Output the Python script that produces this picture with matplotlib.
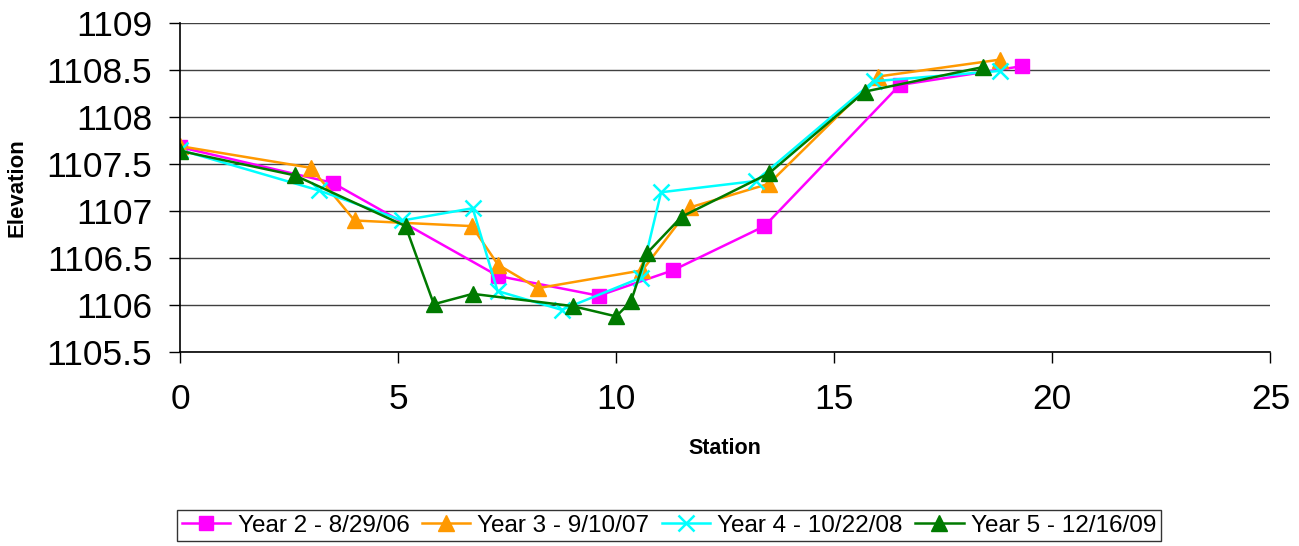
import matplotlib
matplotlib.use("Agg")
import matplotlib.pyplot as plt

plt.rcParams['font.family'] = ['Liberation Sans', 'DejaVu Sans']

labels = ["Year 2 - 8/29/06", "Year 3 - 9/10/07", "Year 4 - 10/22/08", "Year 5 - 12/16/09"]

y2_x = [0, 3.5, 7.29, 9.6, 11.3, 13.4, 16.5, 19.3]
y2_y = [1107.68, 1107.30, 1106.31, 1106.10, 1106.37, 1106.84, 1108.34, 1108.54]

y3_x = [0, 3.0, 4.0, 6.69, 7.29, 8.2, 10.6, 11.7, 13.5, 16.0, 18.8]
y3_y = [1107.69, 1107.46, 1106.90, 1106.84, 1106.43, 1106.18, 1106.37, 1107.04, 1107.29, 1108.43, 1108.61]

y4_x = [0, 3.18, 5.1, 6.71, 7.28, 8.75, 10.56, 11.03, 13.2, 15.9, 18.8]
y4_y = [1107.65, 1107.22, 1106.90, 1107.03, 1106.15, 1105.95, 1106.29, 1107.20, 1107.32, 1108.38, 1108.49]

y5_x = [0, 2.63, 5.17, 5.82, 6.71, 9.0, 10.0, 10.34, 10.7, 11.5, 13.5, 15.7, 18.4]
y5_y = [1107.64, 1107.38, 1106.84, 1106.01, 1106.12, 1105.99, 1105.88, 1106.04, 1106.55, 1106.94, 1107.40, 1108.27, 1108.53]

x_ticks = [0, 5, 10, 15, 20, 25]
y_ticks = [1105.5, 1106, 1106.5, 1107, 1107.5, 1108, 1108.5, 1109]
y_tick_labels = ["1105.5", "1106", "1106.5", "1107", "1107.5", "1108", "1108.5", "1109"]

fig = plt.figure(figsize=(12.99, 5.46), dpi=100)
ax = fig.add_axes([0.1386, 0.355, 0.978 - 0.1386, 0.958 - 0.355])

ax.plot(y2_x, y2_y, color='#FF00FF', marker='s', markersize=10, lw=1.8, label=labels[0])
ax.plot(y3_x, y3_y, color='#FF9900', marker='^', markersize=11, lw=1.8, label=labels[1])
ax.plot(y4_x, y4_y, color='#00FFFF', marker='x', markersize=11, mew=1.8, lw=1.8, label=labels[2])
ax.plot(y5_x, y5_y, color='#007A00', marker='^', markersize=11, lw=1.8, label=labels[3])

ax.set_xlim(0, 25)
ax.set_ylim(1105.5, 1109)
ax.set_xticks(x_ticks)
ax.set_yticks(y_ticks)
ax.set_yticklabels(y_tick_labels)
ax.tick_params(axis='both', labelsize=25.5, direction='out', length=8, width=1, color='black')
ax.tick_params(axis='y', pad=12)
ax.tick_params(axis='x', pad=14)
ax.grid(axis='y', color='#404040', lw=1)
ax.set_axisbelow(True)
for s in ['top', 'right']:
    ax.spines[s].set_visible(False)
for s in ['left', 'bottom']:
    ax.spines[s].set_color('black')
    ax.spines[s].set_linewidth(1.2)

ax.set_xlabel('Station', fontsize=15.5, fontweight='bold', labelpad=16)
ax.set_ylabel('Elevation', fontsize=16, fontweight='bold', labelpad=14)

leg = fig.legend(loc='center', bbox_to_anchor=(0.515, 1 - 525.5 / 546), ncol=4, fontsize=17.5,
                 frameon=True, fancybox=False, edgecolor='black', handlelength=2.0,
                 columnspacing=0.5, handletextpad=0.3, borderpad=0.2)
leg.get_frame().set_linewidth(1)

fig.savefig('out.png', dpi=100)
